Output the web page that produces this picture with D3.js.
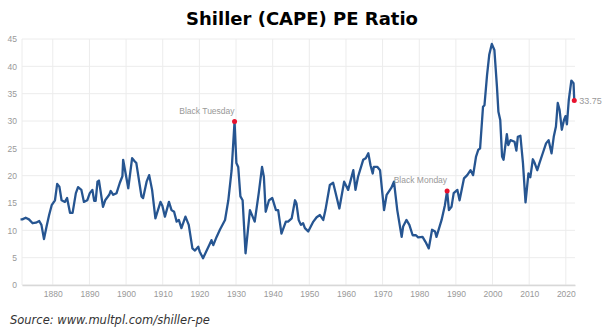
<!DOCTYPE html>
<html>
<head>
<meta charset="utf-8">
<script src="https://cdn.jsdelivr.net/npm/d3@7"></script>
<style>
  body { margin: 0; background: #fff; }
  svg { display: block; }
</style>
</head>
<body>
<div id="chart"></div>
<script>
// Shiller PE readings (fractional year, value)
var years = [
  1871.2, 1871.7, 1872.6, 1873.5, 1874.5, 1875.4, 1876.3, 1876.9, 1877.6, 1878.3,
  1879.0, 1879.7, 1880.6, 1881.2, 1881.8, 1882.4, 1883.3, 1883.9, 1884.7, 1885.4,
  1886.3, 1886.9, 1887.8, 1888.5, 1889.4, 1890.1, 1890.8, 1891.3, 1891.7, 1892.2,
  1892.6, 1893.7, 1894.3, 1895.4, 1895.8, 1896.5, 1897.4, 1898.3, 1899.0, 1899.2,
  1900.6, 1901.65, 1902.4, 1902.8, 1904.2, 1904.65, 1905.6, 1906.3, 1907.1, 1908.0,
  1909.4, 1909.9, 1910.6, 1911.7, 1912.4, 1913.1, 1913.8, 1914.4, 1915.1, 1916.2,
  1917.1, 1918.1, 1918.8, 1919.7, 1920.1, 1921.0, 1922.9, 1923.3, 1923.8, 1924.7,
  1925.6, 1927.0, 1927.9, 1928.8, 1929.6, 1930.1, 1930.6, 1931.2, 1931.8, 1932.6,
  1933.8, 1935.1, 1936.2, 1937.1, 1937.6, 1938.1, 1939.0, 1939.9, 1940.9, 1941.5,
  1942.4, 1943.6, 1944.2, 1945.2, 1946.1, 1946.5, 1947.1, 1947.7, 1948.3, 1948.8,
  1949.7, 1950.4, 1951.1, 1952.0, 1952.9, 1953.8, 1954.4, 1955.6, 1956.5, 1957.2,
  1958.2, 1959.5, 1960.6, 1962.0, 1962.6, 1963.3, 1964.7, 1965.4, 1966.1, 1966.7,
  1967.3, 1967.6, 1968.6, 1969.3, 1970.4, 1971.1, 1972.0, 1972.4, 1973.1, 1974.0,
  1975.2, 1975.6, 1976.5, 1977.3, 1978.2, 1979.1, 1979.7, 1980.9, 1981.7, 1982.6,
  1983.5, 1984.3, 1984.7, 1986.1, 1987.0, 1987.6, 1988.1, 1988.8, 1989.4, 1990.4,
  1991.0, 1992.2, 1993.1, 1994.0, 1994.7, 1995.5, 1996.1, 1996.6, 1997.4, 1997.8,
  1998.5, 1999.1, 1999.8, 2000.5, 2001.2, 2001.6, 2002.1, 2002.6, 2003.0, 2003.9,
  2004.3, 2004.9, 2006.0, 2006.5, 2006.9, 2007.6, 2008.3, 2009.0, 2009.8, 2010.3,
  2011.0, 2011.5, 2012.2, 2012.8, 2013.7, 2014.6, 2015.3, 2016.1, 2016.7, 2017.3,
  2017.8, 2018.3, 2018.9, 2019.5, 2019.9, 2020.3, 2020.8, 2021.5, 2022.1, 2022.3
];
var pe = [
  12.0, 12.0, 12.3, 12.0, 11.3, 11.4, 11.7, 11.0, 8.4, 10.7,
  12.8, 14.6, 15.5, 18.5, 18.0, 15.5, 15.2, 15.9, 13.2, 13.2,
  16.8, 17.9, 17.4, 15.2, 15.5, 16.8, 17.4, 15.4, 15.4, 18.9,
  19.1, 14.3, 15.5, 16.5, 17.2, 16.5, 16.8, 18.7, 19.9, 22.9,
  17.7, 23.2, 22.6, 22.3, 16.2, 15.9, 18.9, 20.1, 17.4, 12.2,
  15.2, 14.5, 12.5, 15.2, 13.7, 13.4, 11.6, 11.9, 10.4, 12.5,
  11.0, 6.7, 6.3, 7.0, 6.1, 4.9, 7.6, 8.2, 7.3, 8.8,
  10.1, 11.9, 15.5, 21.0, 29.9, 22.3, 21.6, 16.2, 15.5, 5.8,
  13.7, 11.6, 16.8, 21.6, 19.8, 13.4, 15.5, 15.9, 13.7, 13.7,
  9.4, 11.6, 11.6, 12.2, 15.5, 14.9, 11.9, 11.0, 11.3, 10.4,
  9.8, 10.7, 11.6, 12.4, 12.8, 11.9, 13.7, 18.3, 18.7, 16.8,
  14.0, 18.9, 17.4, 21.0, 17.4, 19.8, 22.9, 23.2, 24.1, 21.9,
  20.4, 21.6, 21.6, 21.0, 13.7, 16.5, 17.4, 17.8, 18.9, 13.7,
  8.8, 10.7, 11.9, 11.0, 9.1, 9.1, 8.7, 8.8, 7.9, 6.7,
  10.1, 9.8, 8.8, 11.9, 14.6, 17.2, 13.7, 14.3, 16.8, 17.4,
  15.5, 19.5, 20.1, 21.0, 20.1, 23.5, 24.7, 25.0, 32.6, 32.9,
  38.4, 42.1, 44.1, 43.0, 36.3, 31.7, 30.2, 23.5, 22.9, 27.6,
  25.6, 26.5, 26.2, 24.6, 27.1, 27.3, 22.3, 15.1, 20.4, 19.7,
  23.0, 22.3, 21.0, 22.3, 24.1, 25.9, 26.5, 24.1, 27.1, 29.0,
  33.3, 32.0, 28.4, 30.2, 30.9, 29.4, 33.8, 37.4, 36.9, 33.75
];

var xTicks = [1880, 1890, 1900, 1910, 1920, 1930, 1940, 1950, 1960, 1970, 1980, 1990, 2000, 2010, 2020];
var yTicks = [0, 5, 10, 15, 20, 25, 30, 35, 40, 45];

// annotated points
var eventNames = ["Black Tuesday", "Black Monday"];
var eventYears = [1929.6, 1987.6];
var eventValues = [29.9, 17.2];
var lastYear = 2022.3;
var lastValue = 33.75;

var data = years.map(function(y, i) { return { year: y, value: pe[i] }; });

var svgWidth = 605;
var svgHeight = 334;

var margin = { top: 39, right: 30, bottom: 49, left: 22 };
var chartWidth = svgWidth - margin.left - margin.right;
var chartHeight = svgHeight - margin.top - margin.bottom;

var svg = d3.select("#chart")
  .append("svg")
  .attr("width", svgWidth)
  .attr("height", svgHeight);

svg.append("rect")
  .attr("width", svgWidth)
  .attr("height", svgHeight)
  .attr("fill", "#fff");

// title
svg.append("text")
  .attr("x", 302)
  .attr("y", 25)
  .attr("text-anchor", "middle")
  .style("font-family", "'DejaVu Sans', sans-serif")
  .style("font-weight", "bold")
  .style("font-size", "18px")
  .attr("fill", "#000")
  .text("Shiller (CAPE) PE Ratio");

var chartGroup = svg.append("g")
  .attr("transform", `translate(${margin.left}, ${margin.top})`);

var xScale = d3.scaleLinear()
  .domain([1871.6, 2022.5])
  .range([0, chartWidth]);

var yScale = d3.scaleLinear()
  .domain([0, 45])
  .range([chartHeight, 0]);

// grid lines
chartGroup.append("g")
  .selectAll("line")
  .data(yTicks)
  .join("line")
  .attr("x1", 0)
  .attr("x2", chartWidth)
  .attr("y1", d => yScale(d))
  .attr("y2", d => yScale(d))
  .attr("stroke", "#ececec")
  .attr("stroke-width", 1);

chartGroup.append("g")
  .selectAll("line")
  .data(xTicks)
  .join("line")
  .attr("x1", d => xScale(d))
  .attr("x2", d => xScale(d))
  .attr("y1", 0)
  .attr("y2", chartHeight)
  .attr("stroke", "#ececec")
  .attr("stroke-width", 1);

chartGroup.append("line")
  .attr("x1", 0).attr("x2", 0)
  .attr("y1", 0).attr("y2", chartHeight)
  .attr("stroke", "#ececec");

// axes
var bottomAxis = d3.axisBottom(xScale)
  .tickValues(xTicks)
  .tickFormat(d3.format("d"))
  .tickSize(0)
  .tickPadding(6);

var leftAxis = d3.axisLeft(yScale)
  .tickValues(yTicks)
  .tickSize(0)
  .tickPadding(5);

var xAxisG = chartGroup.append("g")
  .attr("transform", `translate(0, ${chartHeight})`)
  .call(bottomAxis);
xAxisG.select(".domain").attr("stroke", "#d8d8d8").attr("stroke-width", 1.5);

var yAxisG = chartGroup.append("g")
  .call(leftAxis);
yAxisG.select(".domain").remove();

chartGroup.selectAll(".tick text")
  .attr("fill", "#999")
  .style("font-family", "'Liberation Sans', Arial, sans-serif")
  .style("font-size", "8.5px");

// the PE line
var line = d3.line()
  .x(d => xScale(d.year))
  .y(d => yScale(d.value));

chartGroup.append("path")
  .datum(data)
  .attr("fill", "none")
  .attr("stroke", "#265591")
  .attr("stroke-width", 2.3)
  .attr("stroke-linejoin", "round")
  .attr("d", line);

// event markers
eventNames.forEach(function(name, i) {
  var cx = xScale(eventYears[i]);
  var cy = yScale(eventValues[i]);
  chartGroup.append("circle")
    .attr("cx", cx)
    .attr("cy", cy)
    .attr("r", 2.5)
    .attr("fill", "#e8112d");
  chartGroup.append("text")
    .attr("x", cx)
    .attr("y", cy - 8)
    .attr("text-anchor", "end")
    .attr("fill", "#999")
    .style("font-family", "'Liberation Sans', Arial, sans-serif")
    .style("font-size", "8.5px")
    .text(name);
});

// last value
chartGroup.append("circle")
  .attr("cx", xScale(lastYear))
  .attr("cy", yScale(lastValue))
  .attr("r", 2.5)
  .attr("fill", "#e8112d");

chartGroup.append("text")
  .attr("x", xScale(lastYear) + 5)
  .attr("y", yScale(lastValue))
  .attr("dy", "0.35em")
  .attr("fill", "#999")
  .style("font-family", "'Liberation Sans', Arial, sans-serif")
  .style("font-size", "9px")
  .text(lastValue.toFixed(2));

// source note
svg.append("text")
  .attr("x", 10)
  .attr("y", 324)
  .style("font-family", "'DejaVu Sans', sans-serif")
  .style("font-style", "italic")
  .style("font-size", "11.5px")
  .attr("fill", "#333")
  .text("Source: www.multpl.com/shiller-pe");
</script>
</body>
</html>
